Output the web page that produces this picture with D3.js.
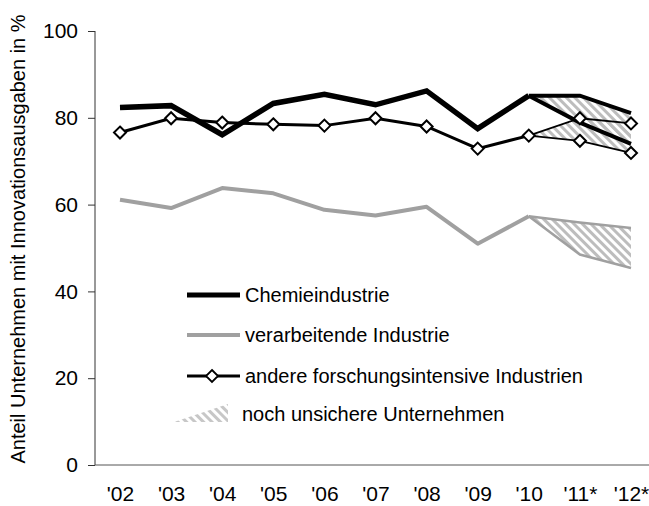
<!DOCTYPE html>
<html><head><meta charset="utf-8">
<script src="https://cdn.jsdelivr.net/npm/d3@7"></script>
<style>body{margin:0;background:#fff;}svg{display:block;font-family:Arial,"Liberation Sans",sans-serif;}</style>
</head><body>
<svg id="c" width="649" height="506"></svg>
<script>
// ---- data ----
const years = ["'02","'03","'04","'05","'06","'07","'08","'09","'10","'11*","'12*"];
const chemie = [82.4, 82.8, 76.1, 83.3, 85.4, 83.0, 86.2, 77.5, 85.1];
const chemieUpper = [85.1, 85.1, 81.1];   // '10, '11, '12
const chemieLower = [85.1, 78.9, 74.0];
const verarb = [61.1, 59.2, 63.8, 62.6, 58.8, 57.5, 59.5, 51.0, 57.3];
const verarbUpper = [57.3, 55.9, 54.6];
const verarbLower = [57.3, 48.5, 45.4];
const andere = [76.6, 79.9, 78.9, 78.5, 78.2, 79.9, 78.0, 72.9, 75.9];
const andereUpper = [75.9, 79.9, 78.7];
const andereLower = [75.9, 74.7, 71.9];
const yTicks = [0, 20, 40, 60, 80, 100];
const legendLabels = ["Chemieindustrie", "verarbeitende Industrie", "andere forschungsintensive Industrien", "noch unsichere Unternehmen"];
const yTitle = "Anteil Unternehmen mit Innovationsausgaben in %";

// ---- chart ----
const svg = d3.select("#c");
const x = d3.scalePoint().domain(years).range([120, 631]);
const y = d3.scaleLinear().domain([0, 100]).range([465, 31]);

const defs = svg.append("defs");
const pat = defs.append("pattern").attr("id", "hatch").attr("patternUnits", "userSpaceOnUse")
  .attr("width", 6).attr("height", 6).attr("patternTransform", "rotate(-45)");
pat.append("rect").attr("x", 0).attr("y", 0).attr("width", 3).attr("height", 6).attr("fill", "#bdbdbd");

const mainYears = years.slice(0, 9);
const extYears = years.slice(8);

// hatched areas
function hatchArea(up, lo) {
  const d = extYears.map((yr, i) => ({yr, u: up[i], l: lo[i]}));
  svg.append("path").datum(d)
    .attr("d", d3.area().x(p => x(p.yr)).y0(p => y(p.l)).y1(p => y(p.u)))
    .attr("fill", "url(#hatch)");
}
hatchArea(verarbUpper, verarbLower);
hatchArea(andereUpper, andereLower);
hatchArea(chemieUpper, chemieLower);

// axes
const yAxis = svg.append("g").attr("transform", "translate(95,0)")
  .call(d3.axisLeft(y).tickValues(yTicks).tickSize(7).tickPadding(10));
yAxis.select(".domain").attr("stroke", "#333").attr("d", `M0,${y(100)}V${y(0)}`);
yAxis.selectAll(".tick line").attr("stroke", "#333");
yAxis.selectAll("text").attr("font-size", 21).attr("fill", "#000").attr("font-family", "Arial, Liberation Sans, sans-serif");

const xAxis = svg.append("g").attr("transform", "translate(0,465)")
  .call(d3.axisBottom(x).tickSize(0).tickPadding(21));
xAxis.select(".domain").attr("stroke", "#555").attr("d", "M95,0H660");
xAxis.selectAll("text").attr("font-size", 21).attr("fill", "#000").attr("font-family", "Arial, Liberation Sans, sans-serif");

svg.append("text").attr("transform", "translate(25,239) rotate(-90)")
  .attr("text-anchor", "middle").attr("font-size", 20).text(yTitle);

const line = d3.line().x(d => x(d[0])).y(d => y(d[1]));
function zipY(yrs, vals) { return yrs.map((yr, i) => [yr, vals[i]]); }

// verarbeitende
svg.append("path").datum(zipY(mainYears, verarb)).attr("d", line)
  .attr("fill", "none").attr("stroke", "#a0a0a0").attr("stroke-width", 4).attr("stroke-linejoin", "round");
[verarbUpper, verarbLower].forEach(v => svg.append("path").datum(zipY(extYears, v)).attr("d", line)
  .attr("fill", "none").attr("stroke", "#a0a0a0").attr("stroke-width", 2.5));

// chemie
svg.append("path").datum(zipY(mainYears, chemie)).attr("d", line)
  .attr("fill", "none").attr("stroke", "#000").attr("stroke-width", 5.5).attr("stroke-linejoin", "miter");
[chemieUpper, chemieLower].forEach(v => svg.append("path").datum(zipY(extYears, v)).attr("d", line)
  .attr("fill", "none").attr("stroke", "#000").attr("stroke-width", 4));

// andere
function diamondPath(cx, cy) {
  const r = 6;
  return `M${cx},${cy - r}L${cx + r},${cy}L${cx},${cy + r}L${cx - r},${cy}Z`;
}
svg.append("path").datum(zipY(mainYears, andere)).attr("d", line)
  .attr("fill", "none").attr("stroke", "#000").attr("stroke-width", 3);
[andereUpper, andereLower].forEach(v => svg.append("path").datum(zipY(extYears, v)).attr("d", line)
  .attr("fill", "none").attr("stroke", "#000").attr("stroke-width", 1.8));
const allDiamonds = zipY(mainYears, andere).concat(zipY(extYears.slice(1), andereUpper.slice(1)), zipY(extYears.slice(1), andereLower.slice(1)));
svg.selectAll(".dm").data(allDiamonds).enter().append("path")
  .attr("d", d => diamondPath(x(d[0]), y(d[1])))
  .attr("fill", "#fff").attr("stroke", "#000").attr("stroke-width", 2);

// legend
const lg = svg.append("g");
lg.append("line").attr("x1", 187).attr("x2", 240).attr("y1", 295).attr("y2", 295).attr("stroke", "#000").attr("stroke-width", 5);
lg.append("line").attr("x1", 187).attr("x2", 240).attr("y1", 335).attr("y2", 335).attr("stroke", "#a0a0a0").attr("stroke-width", 4);
lg.append("line").attr("x1", 187).attr("x2", 240).attr("y1", 376).attr("y2", 376).attr("stroke", "#000").attr("stroke-width", 3);
lg.append("path").attr("d", diamondPath(212, 376)).attr("fill", "#fff").attr("stroke", "#000").attr("stroke-width", 1.8);
lg.append("path").attr("d", "M174,422L228,404L228,422Z").attr("fill", "url(#hatch)").attr("opacity", 0.85);
const ly = [295, 335, 376, 414];
legendLabels.forEach((t, i) => lg.append("text").attr("x", i === 3 ? 242 : 245).attr("y", ly[i])
  .attr("dy", "0.35em").attr("font-size", 20).attr("fill", "#000").text(t));
</script>
</body></html>
